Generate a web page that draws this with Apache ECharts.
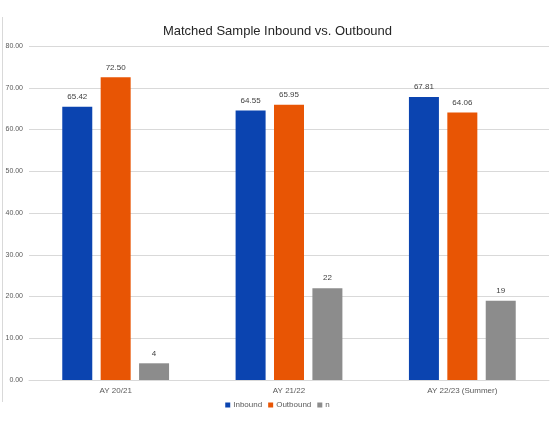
<!DOCTYPE html>
<html>
<head>
<meta charset="utf-8">
<script src="https://cdn.jsdelivr.net/npm/echarts@6/dist/echarts.min.js"></script>
<style>
  html, body { margin: 0; padding: 0; background: #fff; }
  #main { width: 555px; height: 444px; }
</style>
</head>
<body>
<div id="main"></div>
<script>
const categories = ['AY 20/21', 'AY 21/22', 'AY 22/23 (Summer)']
const inbound = [65.42, 64.55, 67.81]
const outbound = [72.50, 65.95, 64.06]
const nCount = [4, 22, 19]
const yTicks = { min: 0, max: 80, interval: 10 }

const chart = echarts.init(document.getElementById('main'))
const font = '"Liberation Sans", "Open Sans", sans-serif'

const labelOption = {
  show: true,
  position: 'top',
  distance: 6,
  fontSize: 8,
  fontFamily: font,
  color: '#404040'
}

const option = {
  animation: false,
  textStyle: { fontFamily: font },
  title: {
    text: 'Matched Sample Inbound vs. Outbound',
    left: 'center',
    top: 20,
    textStyle: { fontSize: 13, fontWeight: 'normal', color: '#262626', fontFamily: font }
  },
  graphic: [
    {
      type: 'line',
      shape: { x1: 2.5, y1: 17, x2: 2.5, y2: 402 },
      style: { stroke: '#d9d9d9', lineWidth: 1 }
    }
  ],
  legend: {
    bottom: 30,
    left: 'center',
    itemWidth: 5,
    itemHeight: 5,
    itemGap: 6,
    icon: 'rect',
    textStyle: { fontSize: 8, color: '#595959', padding: [0, 0, 0, -2] },
    data: ['Inbound', 'Outbound', 'n']
  },
  grid: { left: 29, right: 6, top: 46, bottom: 64 },
  xAxis: {
    type: 'category',
    data: categories,
    axisLine: { show: true, lineStyle: { color: '#d9d9d9' } },
    axisTick: { show: false },
    axisLabel: { fontSize: 8, color: '#595959', margin: 7 }
  },
  yAxis: {
    type: 'value',
    min: yTicks.min,
    max: yTicks.max,
    interval: yTicks.interval,
    axisLine: { show: false },
    axisTick: { show: false },
    splitLine: { lineStyle: { color: '#d9d9d9' } },
    axisLabel: {
      fontSize: 7,
      color: '#595959',
      margin: 6,
      formatter: v => v.toFixed(2)
    }
  },
  series: [
    {
      name: 'Inbound',
      type: 'bar',
      barWidth: 30,
      barGap: '28%',
      barCategoryGap: '39%',
      itemStyle: { color: '#0B44B0' },
      label: Object.assign({}, labelOption, { formatter: p => p.value.toFixed(2) }),
      data: inbound
    },
    {
      name: 'Outbound',
      type: 'bar',
      barWidth: 30,
      itemStyle: { color: '#E85504' },
      label: Object.assign({}, labelOption, { formatter: p => p.value.toFixed(2) }),
      data: outbound
    },
    {
      name: 'n',
      type: 'bar',
      barWidth: 30,
      itemStyle: { color: '#8C8C8C' },
      label: labelOption,
      data: nCount
    }
  ]
}

chart.setOption(option)
window.addEventListener('resize', () => {
  chart.resize()
})
</script>
</body>
</html>
